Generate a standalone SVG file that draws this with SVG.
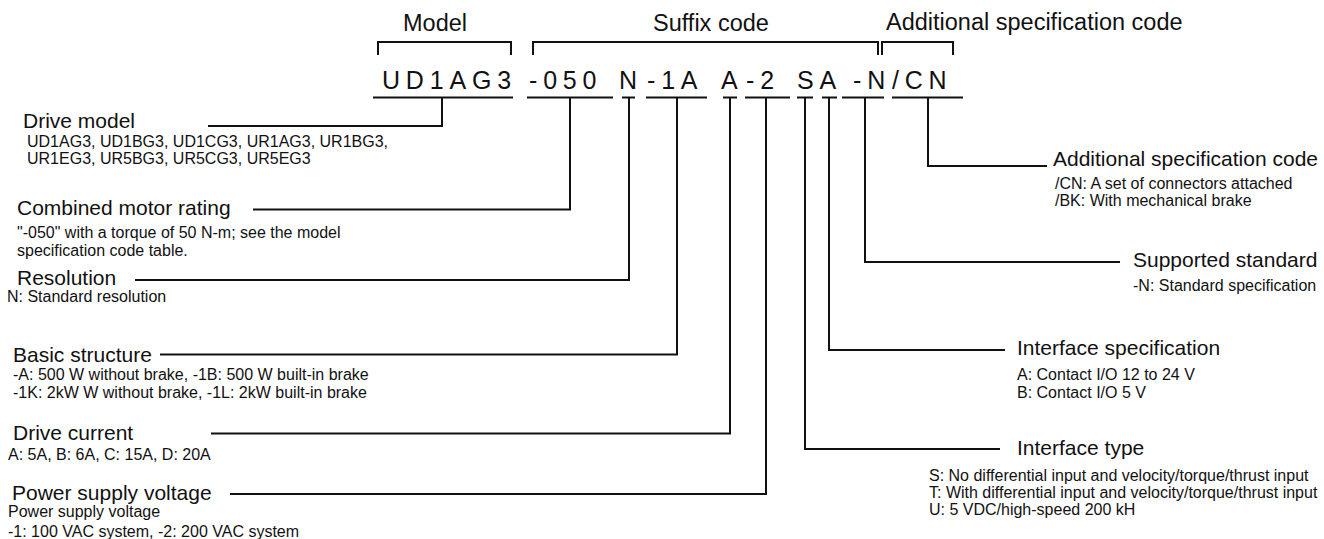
<svg xmlns="http://www.w3.org/2000/svg" width="1324" height="539" viewBox="0 0 1324 539">
<style>
text{font-family:"Liberation Sans",Arial,sans-serif;fill:#111}
.hd{font-size:23.5px}
.cd{font-size:25px;letter-spacing:5.8px}
.lb{font-size:21px}
.dt{font-size:16px}
.ln{fill:none;stroke:#111;stroke-width:2}
</style>
<rect width="1324" height="539" fill="#fff"/>
<g id="headers">
<text class="hd" x="403" y="31">Model</text>
<text class="hd" x="653" y="31">Suffix code</text>
<text class="hd" x="886" y="30">Additional specification code</text>
<path class="ln" d="M378,55V42H511V55M533,55V42H878V55M882,55V42H953V55"/>
</g>
<g id="code">
<text class="cd" x="382" y="89">UD1AG3</text>
<text class="cd" x="529" y="89">-050</text>
<text class="cd" x="619" y="89">N</text>
<text class="cd" x="647" y="89">-1A</text>
<text class="cd" x="721" y="89">A</text>
<text class="cd" x="746" y="89">-2</text>
<text class="cd" x="797" y="89">SA</text>
<text class="cd" x="853" y="89">-N</text>
<text class="cd" x="892" y="89">/CN</text>
<path class="ln" d="M373,97.5H513M527,97.5H613M622,97.5H635M646,97.5H707M723,97.5H737M745,97.5H790M797,97.5H813M822,97.5H837M842,97.5H884M892,97.5H963"/>
</g>
<g id="connectors">
<path class="ln" d="M442,97.5V126H208"/>
<path class="ln" d="M570,97.5V209.5H253"/>
<path class="ln" d="M629,97.5V280H135"/>
<path class="ln" d="M677,97.5V354.5H160"/>
<path class="ln" d="M730,97.5V433.5H211"/>
<path class="ln" d="M766,97.5V494H230"/>
<path class="ln" d="M805,97.5V449H1000"/>
<path class="ln" d="M829,97.5V350H1005"/>
<path class="ln" d="M865,97.5V262H1120"/>
<path class="ln" d="M928,97.5V166H1047"/>
</g>
<g id="drive-model">
<text class="lb" x="23" y="128">Drive model</text>
<text class="dt" x="27" y="147">UD1AG3, UD1BG3, UD1CG3, UR1AG3, UR1BG3,</text>
<text class="dt" x="27" y="164">UR1EG3, UR5BG3, UR5CG3, UR5EG3</text>
</g>
<g id="motor-rating">
<text class="lb" x="17" y="215">Combined motor rating</text>
<text class="dt" x="17" y="238">"-050" with a torque of 50 N-m; see the model</text>
<text class="dt" x="17" y="255.5">specification code table.</text>
</g>
<g id="resolution">
<text class="lb" x="17" y="285">Resolution</text>
<text class="dt" x="7" y="302">N: Standard resolution</text>
</g>
<g id="basic-structure">
<text class="lb" x="13" y="361.5">Basic structure</text>
<text class="dt" x="13" y="380">-A: 500 W without brake, -1B: 500 W built-in brake</text>
<text class="dt" x="13" y="398">-1K: 2kW W without brake, -1L: 2kW built-in brake</text>
</g>
<g id="drive-current">
<text class="lb" x="13" y="440">Drive current</text>
<text class="dt" x="8" y="460">A: 5A, B: 6A, C: 15A, D: 20A</text>
</g>
<g id="power-supply">
<text class="lb" x="12" y="500">Power supply voltage</text>
<text class="dt" x="8" y="517">Power supply voltage</text>
<text class="dt" x="8" y="536.5">-1: 100 VAC system, -2: 200 VAC system</text>
</g>
<g id="additional-spec">
<text class="lb" x="1053" y="166">Additional specification code</text>
<text class="dt" x="1055" y="189">/CN: A set of connectors attached</text>
<text class="dt" x="1055" y="206">/BK: With mechanical brake</text>
</g>
<g id="supported-standard">
<text class="lb" x="1133" y="267">Supported standard</text>
<text class="dt" x="1133" y="291">-N: Standard specification</text>
</g>
<g id="interface-spec">
<text class="lb" x="1017" y="354.5">Interface specification</text>
<text class="dt" x="1017" y="380">A: Contact I/O 12 to 24 V</text>
<text class="dt" x="1017" y="397.5">B: Contact I/O 5 V</text>
</g>
<g id="interface-type">
<text class="lb" x="1017" y="455">Interface type</text>
<text class="dt" x="929" y="481">S: No differential input and velocity/torque/thrust input</text>
<text class="dt" x="929" y="498">T: With differential input and velocity/torque/thrust input</text>
<text class="dt" x="929" y="515">U: 5 VDC/high-speed 200 kH</text>
</g>
</svg>
